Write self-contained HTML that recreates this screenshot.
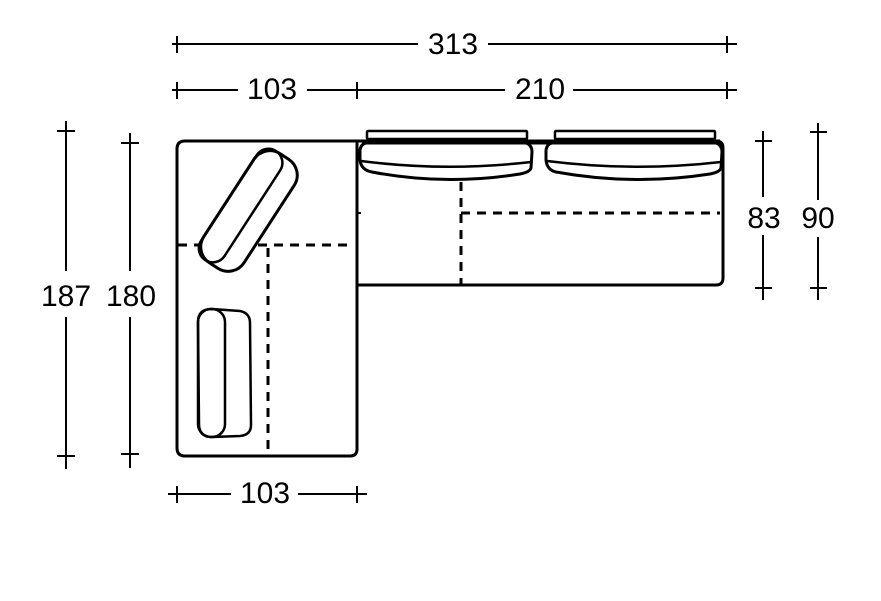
<!DOCTYPE html>
<html><head><style>
html,body{margin:0;padding:0;background:#fff;}
svg{display:block;}
text{font-family:"Liberation Sans",Arial,sans-serif;font-size:30px;fill:#000;}
</style></head><body>
<svg width="881" height="601" viewBox="0 0 881 601" xmlns="http://www.w3.org/2000/svg">
<g stroke="#000" stroke-width="2" fill="none">
<line x1="172" y1="44" x2="418" y2="44"/><line x1="488" y1="44" x2="737" y2="44"/>
<line x1="177" y1="36" x2="177" y2="53"/><line x1="727" y1="36" x2="727" y2="53"/>
<line x1="172" y1="90" x2="238" y2="90"/><line x1="307" y1="90" x2="505" y2="90"/><line x1="573" y1="90" x2="737" y2="90"/>
<line x1="177" y1="82" x2="177" y2="99"/><line x1="357" y1="82" x2="357" y2="99"/><line x1="727" y1="82" x2="727" y2="99"/>
<line x1="66" y1="121" x2="66" y2="271"/><line x1="66" y1="317" x2="66" y2="469"/>
<line x1="57" y1="131" x2="75" y2="131"/><line x1="57" y1="456" x2="75" y2="456"/>
<line x1="130" y1="133" x2="130" y2="271"/><line x1="130" y1="317" x2="130" y2="468"/>
<line x1="121" y1="143" x2="139" y2="143"/><line x1="121" y1="454" x2="139" y2="454"/>
<line x1="763" y1="131" x2="763" y2="197"/><line x1="763" y1="235" x2="763" y2="300"/>
<line x1="755" y1="141" x2="772" y2="141"/><line x1="755" y1="288" x2="772" y2="288"/>
<line x1="818" y1="123" x2="818" y2="200"/><line x1="818" y1="237" x2="818" y2="300"/>
<line x1="810" y1="132" x2="827" y2="132"/><line x1="810" y1="288" x2="827" y2="288"/>
<line x1="168" y1="494" x2="231" y2="494"/><line x1="298" y1="494" x2="367" y2="494"/>
<line x1="177" y1="486" x2="177" y2="503"/><line x1="357" y1="486" x2="357" y2="503"/>
</g>
<text x="453" y="54" text-anchor="middle">313</text>
<text x="272" y="99" text-anchor="middle">103</text>
<text x="540" y="99" text-anchor="middle">210</text>
<text x="66" y="306" text-anchor="middle">187</text>
<text x="131" y="306" text-anchor="middle">180</text>
<text x="764" y="228" text-anchor="middle">83</text>
<text x="818" y="228" text-anchor="middle">90</text>
<text x="265" y="503" text-anchor="middle">103</text>

<g stroke="#000" stroke-width="3" fill="none" stroke-linejoin="round">
<path d="M357 141 L185 141 Q177 141 177 149 L177 448 Q177 456 185 456 L350 456 Q357 456 357 449 Z"/>
<path d="M357 141 L716 141 Q723 141 723 148 L723 278 Q723 285 716 285 L357 285"/>
<line x1="357" y1="213" x2="361" y2="213" stroke-width="2"/>
<rect x="367" y="131" width="160" height="8" rx="1" stroke-width="2.5"/>
<rect x="555" y="131" width="160" height="8" rx="1" stroke-width="2.5"/>
<line x1="362" y1="142" x2="720" y2="142" stroke-width="5"/>
<path d="M366 143 L526 143 Q532 145 532 152 L531 168 Q530 172 520 174 Q445 186 372 172 Q361 170 360 160 L360 150 Q361 144 366 143 Z"/>
<path d="M361 161 Q445 172 531 162" stroke-width="2.5"/>
<path d="M552 143 L716 143 Q722 145 722 152 L721 168 Q720 172 710 174 Q633 186 556 172 Q547 170 546 160 L546 150 Q547 144 552 143 Z"/>
<path d="M547 161 Q633 172 721 162" stroke-width="2.5"/>
<g stroke-dasharray="9,7">
<line x1="461" y1="182" x2="461" y2="284"/>
<line x1="461" y1="213" x2="720" y2="213"/>
<line x1="178" y1="245" x2="350" y2="245"/>
<line x1="268" y1="248" x2="268" y2="455"/>
</g>
<g transform="translate(249 211) rotate(33)">
<rect x="-24" y="-65" width="48" height="130" rx="19" fill="#fff"/>
<rect x="-24" y="-65" width="28" height="130" rx="14" stroke-width="2.5"/>
</g>
<path d="M212 309 L240 311 Q250 313 250 323 L251 425 Q251 435 240 436 L212 437 Q199 437 199 424 L198 322 Q198 309 212 309 Z" stroke-width="2.5"/>
<rect x="198" y="309" width="27" height="128" rx="13" stroke-width="2.5"/>
</g>
</svg>
</body></html>
